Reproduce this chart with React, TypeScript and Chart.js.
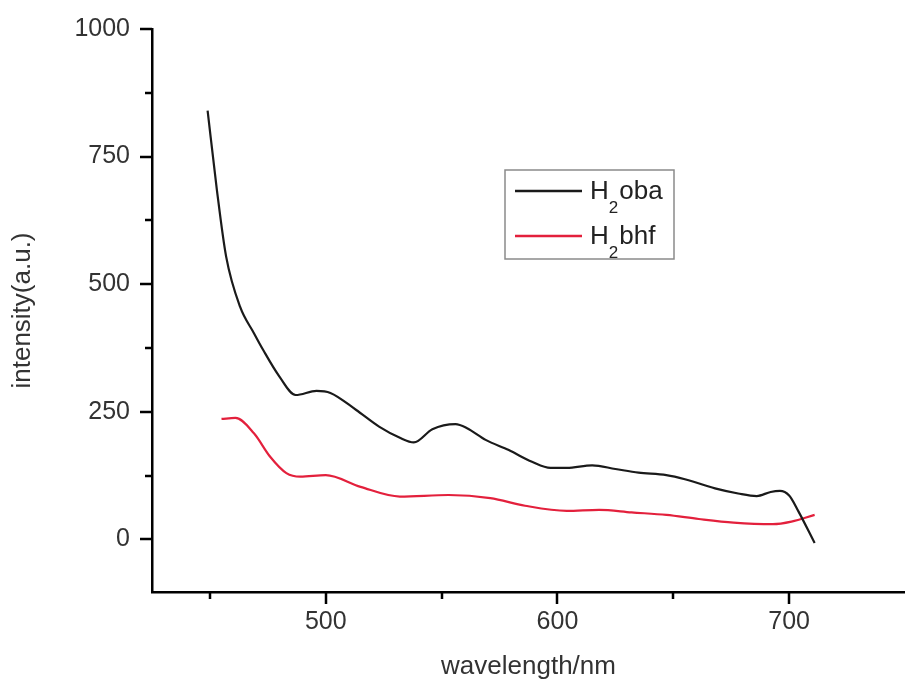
import React, { useEffect, useRef } from "react";
import { Chart, registerables } from "chart.js";

Chart.register(...registerables);

const obaWavelengths = [449, 453, 457, 463, 469, 473, 480, 487, 496, 502, 513, 523, 532, 538, 546, 556, 561, 569, 579, 589, 597, 604, 615, 625, 635, 647, 655, 668, 678, 686, 692, 696, 700, 704, 711];
const obaIntensity = [840, 685, 554, 456, 404, 371, 319, 283, 291, 287, 254, 221, 199, 190, 216, 226, 218, 195, 175, 152, 140, 140, 145, 138, 131, 126, 118, 100, 90, 85, 93, 95, 86, 55, -7];

const bhfWavelengths = [455, 461, 469, 476, 483, 489, 500, 515, 532, 553, 571, 586, 604, 618, 632, 647, 661, 676, 693, 701, 711];
const bhfIntensity = [236, 238, 208, 162, 130, 123, 126, 103, 84, 87, 81, 66, 56, 58, 53, 48, 40, 33, 30, 35, 48];

const yTickValues = [0, 125, 250, 375, 500, 625, 750, 875, 1000];
const yLabelValues = [0, 250, 500, 750, 1000];
const xTickValues = [450, 500, 550, 600, 650, 700];
const xLabelValues = [500, 600, 700];

const legendNames = [
  { base: "H", sub: "2", rest: "oba", color: "#1a1a1a" },
  { base: "H", sub: "2", rest: "bhf", color: "#e3203c" },
];

const FONT = "'Liberation Sans', Arial, sans-serif";

const customPlugin = {
  id: "customDecor",
  afterDraw(chart: any) {
    const ctx = chart.ctx;
    const xs = chart.scales.x;
    const ys = chart.scales.y;
    const area = chart.chartArea;
    ctx.save();
    ctx.strokeStyle = "#000";
    ctx.lineWidth = 2.5;
    ctx.beginPath();
    yTickValues.forEach((v) => {
      const py = Math.round(ys.getPixelForValue(v));
      const len = yLabelValues.includes(v) ? 12 : 7;
      ctx.moveTo(area.left - len, py);
      ctx.lineTo(area.left, py);
    });
    xTickValues.forEach((v) => {
      const px = Math.round(xs.getPixelForValue(v));
      const len = xLabelValues.includes(v) ? 12 : 7;
      ctx.moveTo(px, area.bottom);
      ctx.lineTo(px, area.bottom + len);
    });
    ctx.stroke();

    // legend box
    const bx = 505, by = 170, bw = 169, bh = 89;
    ctx.strokeStyle = "#8a8a8a";
    ctx.lineWidth = 1.5;
    ctx.strokeRect(bx, by, bw, bh);
    legendNames.forEach((item, i) => {
      const ly = i === 0 ? 191 : 236;
      const base = i === 0 ? 199 : 244;
      ctx.strokeStyle = item.color;
      ctx.lineWidth = 2.5;
      ctx.beginPath();
      ctx.moveTo(515, ly);
      ctx.lineTo(582, ly);
      ctx.stroke();
      ctx.fillStyle = "#222";
      ctx.textBaseline = "alphabetic";
      ctx.textAlign = "left";
      ctx.font = `26px ${FONT}`;
      let tx = 590;
      ctx.fillText(item.base, tx, base);
      tx += ctx.measureText(item.base).width;
      ctx.font = `17px ${FONT}`;
      ctx.fillText(item.sub, tx, base + 14);
      tx += ctx.measureText(item.sub).width + 1;
      ctx.font = `26px ${FONT}`;
      ctx.fillText(item.rest, tx, base);
    });
    ctx.restore();
  },
};

export default function App() {
  const canvasRef = useRef<HTMLCanvasElement>(null);

  useEffect(() => {
    const canvas = canvasRef.current;
    if (!canvas) return;
    const chart = new Chart(canvas, {
      type: "line",
      data: {
        datasets: [
          {
            label: "H2oba",
            data: obaWavelengths.map((x, i) => ({ x, y: obaIntensity[i] })),
            borderColor: "#1a1a1a",
            borderWidth: 2.2,
            pointRadius: 0,
            cubicInterpolationMode: "monotone",
            fill: false,
          },
          {
            label: "H2bhf",
            data: bhfWavelengths.map((x, i) => ({ x, y: bhfIntensity[i] })),
            borderColor: "#e3203c",
            borderWidth: 2.2,
            pointRadius: 0,
            cubicInterpolationMode: "monotone",
            fill: false,
          },
        ],
      },
      options: {
        animation: false,
        responsive: false,
        maintainAspectRatio: false,
        layout: { padding: { top: 29, right: 0, left: 0, bottom: 0 } },
        plugins: { legend: { display: false }, tooltip: { enabled: false } },
        scales: {
          x: {
            type: "linear",
            min: 425,
            max: 750,
            afterBuildTicks: (scale: any) => {
              scale.ticks = xTickValues.map((v) => ({ value: v }));
            },
            afterFit: (scale: any) => {
              scale.height = 90;
              scale.paddingLeft = 0;
              scale.paddingRight = 0;
            },
            ticks: {
              autoSkip: false,
              maxRotation: 0,
              padding: 15,
              color: "#333",
              font: { family: FONT, size: 25 },
              callback: (v: any) => (xLabelValues.includes(Number(v)) ? String(v) : ""),
            },
            grid: { display: true, drawOnChartArea: false, drawTicks: false },
            border: { display: true, color: "#000", width: 2.5 },
            title: {
              display: true,
              text: "wavelength/nm",
              color: "#333",
              font: { family: FONT, size: 26 },
              padding: { top: 0, bottom: 0 },
            },
          },
          y: {
            type: "linear",
            min: -103,
            max: 1000,
            afterBuildTicks: (scale: any) => {
              scale.ticks = yTickValues.map((v) => ({ value: v }));
            },
            afterFit: (scale: any) => {
              scale.width = 152;
              scale.paddingTop = 0;
              scale.paddingBottom = 0;
            },
            ticks: {
              autoSkip: false,
              padding: 22,
              color: "#333",
              font: { family: FONT, size: 25 },
              callback: (v: any) => (yLabelValues.includes(Number(v)) ? String(v) : ""),
            },
            grid: { display: true, drawOnChartArea: false, drawTicks: false },
            border: { display: true, color: "#000", width: 2.5 },
            title: {
              display: true,
              text: "intensity(a.u.)",
              color: "#333",
              font: { family: FONT, size: 26 },
              padding: { top: 7, bottom: 0 },
            },
          },
        },
      },
      plugins: [customPlugin],
    });
    return () => chart.destroy();
  }, []);

  return (
    <div style={{ position: "fixed", left: 0, top: 0, width: 905, height: 682, background: "#fff" }}>
      <canvas ref={canvasRef} width={905} height={682} style={{ width: 905, height: 682 }} />
    </div>
  );
}
